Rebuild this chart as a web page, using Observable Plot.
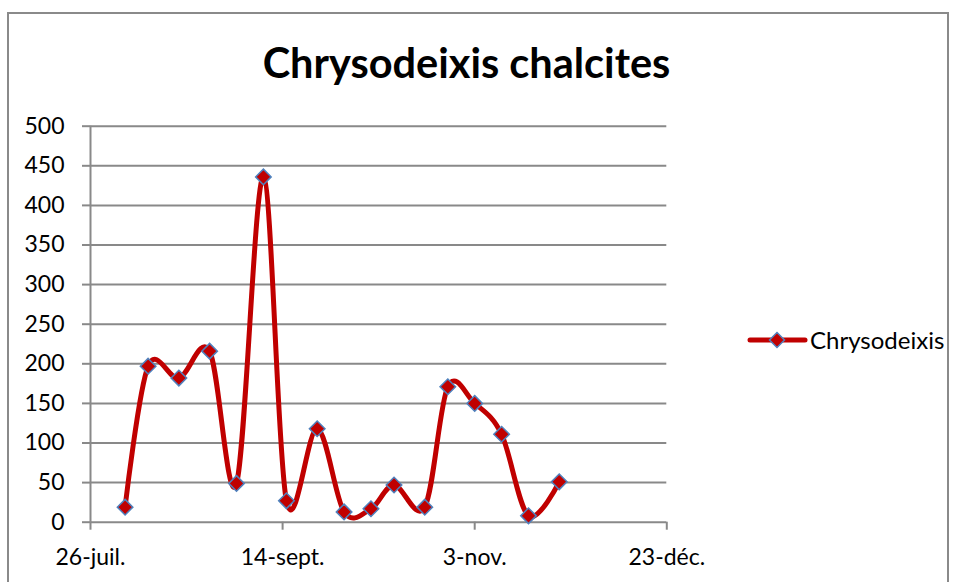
<!DOCTYPE html>
<html>
<head>
<meta charset="utf-8">
<script src="https://cdn.jsdelivr.net/npm/d3@7"></script>
<script src="https://cdn.jsdelivr.net/npm/@observablehq/plot@0.6"></script>
<style>
  html, body { margin: 0; padding: 0; background: #fff; }
  #wrap { position: relative; width: 954px; height: 582px; overflow: hidden; font-family: Lato, "Open Sans", sans-serif; }
  #wrap > svg { position: absolute; left: 0; top: 0; }
  #frame { position: absolute; left: 7px; top: 12px; width: 942px; height: 600px; border: 2px solid #8a8a8a; box-sizing: border-box; }
  #title { position: absolute; left: 0; width: 933px; top: 37px; text-align: center; font-weight: bold; font-size: 41.5px; color: #000; white-space: nowrap; }
  #legend { position: absolute; left: 746px; top: 325px; display: flex; align-items: center; font-size: 24px; color: #000; }
</style>
</head>
<body>
<div id="wrap">
  <div id="frame"></div>
  <div id="title">Chrysodeixis chalcites</div>
  <div id="legend"></div>
</div>
<script>
// ---- data ----
const seriesName = "Chrysodeixis";
const titleText = "Chrysodeixis chalcites";
const dates = ["2010-08-04","2010-08-10","2010-08-18","2010-08-26","2010-09-02","2010-09-09","2010-09-15","2010-09-23","2010-09-30","2010-10-07","2010-10-13","2010-10-21","2010-10-27","2010-11-03","2010-11-10","2010-11-17","2010-11-25"];
const values = [19, 197, 182, 216, 49, 436, 27, 118, 13, 17, 47, 19, 171, 150, 111, 8, 51];
const xTickDates = ["2010-07-26","2010-09-14","2010-11-03","2010-12-23"];
const xTickLabels = ["26-juil.","14-sept.","3-nov.","23-déc."];
const yTicks = [0, 50, 100, 150, 200, 250, 300, 350, 400, 450, 500];

// ---- build ----
const data = dates.map((d, i) => ({date: new Date(d + "T00:00:00Z"), value: values[i]}));
const xTicks = xTickDates.map(d => new Date(d + "T00:00:00Z"));
const labelOf = new Map(xTicks.map((d, i) => [+d, xTickLabels[i]]));

const lineColor = "#C00000";
const markerEdge = "#4F81BD";
const gridColor = "#898989";

const chart = Plot.plot({
  width: 954,
  height: 582,
  marginLeft: 90,
  marginRight: 287.7,
  marginTop: 125.7,
  marginBottom: 60.3,
  style: {background: "transparent", fontFamily: "Lato, 'Open Sans', sans-serif", fontSize: "23px", color: "#000", overflow: "visible"},
  x: {type: "utc", domain: [xTicks[0], xTicks[xTicks.length - 1]], label: null},
  y: {domain: [0, 500], label: null},
  marks: [
    Plot.gridY(yTicks, {stroke: gridColor, strokeOpacity: 1, strokeWidth: 2}),
    Plot.ruleX([xTicks[0]], {stroke: gridColor, strokeWidth: 2}),
    Plot.axisY(yTicks, {tickSize: 8, tickPadding: 18, stroke: gridColor, strokeWidth: 2, fill: "#000", label: null, tickFormat: d => String(d)}),
    Plot.axisX(xTicks, {tickSize: 8, tickPadding: 18, stroke: gridColor, strokeWidth: 2, fill: "#000", label: null, tickFormat: d => labelOf.get(+d)}),
    Plot.line(data, {x: "date", y: "value", curve: "cardinal", tension: 0, stroke: lineColor, strokeWidth: 5}),
    Plot.dot(data, {x: "date", y: "value", symbol: "diamond2", r: 7, fill: lineColor, stroke: markerEdge, strokeWidth: 1.5})
  ]
});
document.getElementById("wrap").insertBefore(chart, document.getElementById("title"));
document.getElementById("title").textContent = titleText;

// legend
const lg = document.getElementById("legend");
lg.innerHTML = `<svg width="62" height="28" style="margin-right:2px"><line x1="4" y1="14" x2="59" y2="14" stroke="${lineColor}" stroke-width="5" stroke-linecap="round"/><path d="M31,6.5L38.5,14L31,21.5L23.5,14Z" fill="${lineColor}" stroke="${markerEdge}" stroke-width="1.5"/></svg><span>${seriesName}</span>`;
</script>
</body>
</html>
